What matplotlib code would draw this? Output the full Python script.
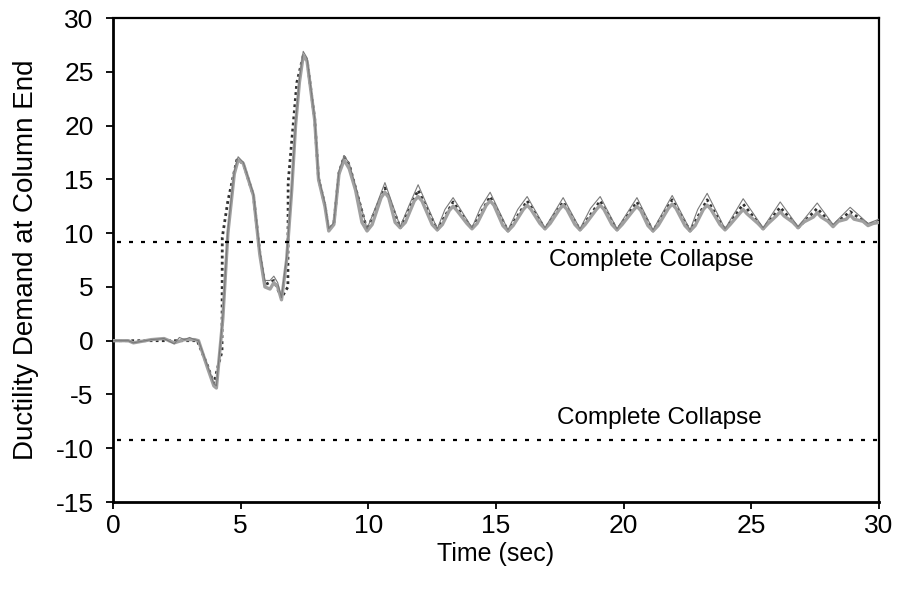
import matplotlib.pyplot as plt

plt.rcParams['font.family'] = ['Liberation Sans', 'DejaVu Sans']
plt.rcParams['axes.unicode_minus'] = False

# demanda de ductilidad en el extremo de la columna (tres análisis)
t_a = [0, 0.6, 0.8, 1.5, 2.0, 2.4, 2.8, 3.2, 3.35, 3.7, 3.95, 4.05, 4.3, 4.5, 4.75, 4.9,
       5.1, 5.5, 5.75, 5.95, 6.15, 6.3, 6.45, 6.6, 6.8, 7.0, 7.15, 7.3, 7.45, 7.6, 7.9,
       8.05, 8.3, 8.45, 8.65, 8.85, 9.05, 9.25, 9.5, 9.75, 9.95, 10.15,
       10.5, 10.65, 10.8, 11.05, 11.25, 11.45, 11.8, 11.95, 12.1, 12.5, 12.7, 12.9,
       13.17, 13.32, 13.47, 13.86, 14.06, 14.26, 14.62, 14.77, 14.92, 15.27, 15.47, 15.67,
       16.07, 16.22, 16.37, 16.72, 16.92, 17.12, 17.48, 17.63, 17.78, 18.09, 18.29, 18.49,
       18.93, 19.08, 19.23, 19.54, 19.74, 19.94, 20.37, 20.52, 20.67, 20.95, 21.15, 21.35,
       21.75, 21.9, 22.05, 22.4, 22.6, 22.8, 23.12, 23.27, 23.42, 23.77, 23.97, 24.17,
       24.53, 24.68, 24.83, 25.26, 25.46, 25.66, 25.98, 26.13, 26.28, 26.63, 26.83, 27.03,
       27.43, 27.58, 27.73, 28.0, 28.2, 28.4, 28.72, 28.87, 29.02, 29.37, 29.57, 29.77, 30]
y_a = [0, 0, -0.2, 0.1, 0.2, -0.2, 0.1, 0.1, 0, -2.5, -4.2, -4.4, 2, 10, 15.5, 16.8,
       16.5, 13.5, 8, 5.0, 4.8, 5.4, 5.0, 3.8, 7.5, 14, 20, 24, 26.5, 26, 20.5,
       15, 12.5, 10.2, 10.8, 15.5, 16.8, 16.0, 14.0, 11.0, 10.2, 10.8,
       13.3, 13.8, 13.3, 11.0, 10.5, 11.0, 13.0, 13.4, 13.0, 10.8, 10.3, 10.8,
       12.1, 12.5, 12.1, 10.9, 10.4, 10.9, 12.6, 13.0, 12.6, 10.7, 10.2, 10.7,
       12.2, 12.6, 12.2, 10.9, 10.4, 10.9, 12.2, 12.6, 12.2, 10.8, 10.3, 10.8,
       12.2, 12.6, 12.2, 10.8, 10.3, 10.8, 12.1, 12.5, 12.1, 10.7, 10.2, 10.7,
       12.3, 12.7, 12.3, 10.7, 10.2, 10.7, 12.2, 12.6, 12.2, 10.8, 10.3, 10.8,
       11.8, 12.2, 11.8, 10.9, 10.4, 10.9, 11.6, 12.0, 11.6, 11.0, 10.5, 11.0,
       11.5, 11.9, 11.5, 11.1, 10.6, 11.1, 11.3, 11.7, 11.3, 11.1, 10.7, 10.9, 11.0]

t_b = [0, 0.6, 0.8, 1.5, 2.0, 2.4, 2.6, 2.8, 3.0, 3.2, 3.35, 3.7, 3.95, 4.05, 4.3, 4.5,
       4.75, 4.9, 5.1, 5.5, 5.75, 5.95, 6.15, 6.3, 6.45, 6.6, 6.8, 7.0, 7.15, 7.3, 7.45,
       7.6, 7.9, 8.05, 8.3, 8.45, 8.65, 8.85, 9.05, 9.25, 9.5, 9.95,
       10.3, 10.65, 11.25, 11.6, 11.95, 12.7, 13.0, 13.32, 14.06, 14.4, 14.77, 15.47,
       15.85, 16.22, 16.92, 17.63, 18.29, 18.7, 19.08, 19.74, 20.52, 21.15, 21.9, 22.6,
       22.9, 23.27, 23.97, 24.68, 25.46, 26.13, 26.83, 27.58, 28.2, 28.87, 29.57, 30]
y_b = [0, 0, -0.2, 0.1, 0.2, -0.3, 0.3, 0.1, 0.3, 0.1, 0, -2.3, -4.0, -4.2, 2.2, 10.3,
       15.8, 17.1, 16.6, 13.7, 8.3, 5.6, 5.6, 6.0, 5.4, 4.0, 7.8, 14.2, 20.2, 24.3, 26.9,
       26.3, 20.7, 15.2, 12.8, 10.4, 11.0, 15.8, 17.2, 16.5, 14.4, 10.4,
       12.5, 14.7, 10.6, 12.6, 14.5, 10.4, 12.2, 13.3, 10.5, 12.4, 13.8, 10.3,
       12.2, 13.4, 10.5, 13.3, 10.4, 12.3, 13.4, 10.4, 13.3, 10.3, 13.5, 10.3,
       12.2, 13.7, 10.4, 13.2, 10.5, 12.9, 10.6, 12.8, 10.8, 12.4, 10.9, 11.3]

t_c = [0, 1.0, 2.0, 3.3, 3.7, 3.95, 4.1, 4.27, 4.28, 4.5, 4.85, 5.1, 5.5, 5.75, 5.95,
       6.3, 6.6, 6.85, 6.86, 7.2, 7.45, 7.6, 7.9, 8.05, 8.3, 8.45, 8.65, 8.85, 9.05,
       9.25, 9.5, 9.95, 10.65, 11.25, 11.95, 12.7, 13.32, 14.06, 14.77, 15.47, 16.22,
       16.92, 17.63, 18.29, 19.08, 19.74, 20.52, 21.15, 21.9, 22.6, 23.27, 23.97,
       24.68, 25.46, 26.13, 26.83, 27.58, 28.2, 28.87, 29.57, 30]
y_c = [0, 0, 0, 0, -2.3, -4.0, -2.5, -1.0, 9.6, 13.0, 16.8, 16.5, 13.5, 8.2, 5.2,
       5.6, 4.0, 5.0, 14.7, 24.0, 26.5, 26.1, 20.6, 15.1, 12.6, 10.3, 10.9, 15.6, 17.1,
       16.4, 14.2, 10.3, 14.2, 10.5, 14.0, 10.3, 12.9, 10.4, 13.4, 10.2, 13.0,
       10.4, 12.9, 10.3, 13.0, 10.3, 12.9, 10.2, 13.1, 10.2, 13.1, 10.3,
       12.7, 10.4, 12.4, 10.5, 12.3, 10.7, 12.0, 10.8, 11.1]

colapso = 9.2
etiqueta_sup = (21.1, 7.5, "Complete Collapse")
etiqueta_inf = (21.4, -7.2, "Complete Collapse")

fig = plt.figure(figsize=(9.01, 5.97), dpi=100)
ax = fig.add_axes([0.1254, 0.1591, 0.8502, 0.8107])

ax.plot(t_c, y_c, color='#303030', lw=2.0, ls=(0, (1, 1.2)), zorder=2)
ax.plot(t_a, y_a, color='#a0a0a0', lw=2.4, zorder=3)
ax.plot(t_b, y_b, color='#7a7a7a', lw=0.8, zorder=4)

ax.axhline(colapso, color='black', lw=1.6, ls=(0, (1.8, 3.6)), xmin=0.005, zorder=5)
ax.axhline(-colapso, color='black', lw=1.6, ls=(0, (1.8, 3.6)), xmin=0.005, zorder=5)
ax.text(etiqueta_sup[0], etiqueta_sup[1], etiqueta_sup[2], ha='center', va='center', fontsize=17.5)
ax.text(etiqueta_inf[0], etiqueta_inf[1], etiqueta_inf[2], ha='center', va='center', fontsize=17.5)

ax.set_xlim(0, 30)
ax.set_ylim(-15, 30)
ax.set_xticks(range(0, 31, 5))
ax.set_yticks(range(-15, 31, 5))
ax.tick_params(axis='both', direction='out', length=5, width=1.3, labelsize=19, colors='black')
ax.tick_params(axis='x', pad=3.5)
ax.tick_params(axis='y', pad=9)
for lado in ['left', 'bottom']:
    ax.spines[lado].set_linewidth(2)
for lado in ['top', 'right']:
    ax.spines[lado].set_linewidth(1.6)

ax.set_xlabel("Time (sec)", fontsize=18, labelpad=3)
ax.set_ylabel("Ductility Demand at Column End", fontsize=20, labelpad=12)

plt.savefig('out.png', dpi=100)
